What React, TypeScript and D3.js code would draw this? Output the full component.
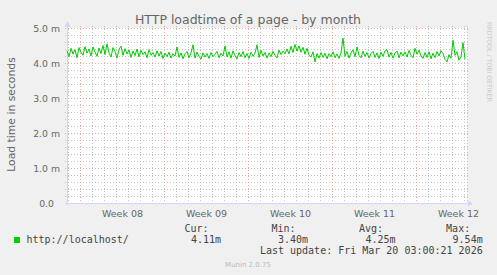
import React from "react";
import * as d3 from "d3";

// ---- data (milliseconds, one sample every 4 hours) ----
const seriesName = "http://localhost/";
const loadTimes: number[] = [
  4.35, 4.18, 4.42, 4.26, 4.38, 4.15, 4.44, 4.30, 4.22, 4.47,
  4.28, 4.40, 4.20, 4.46, 4.31, 4.19, 4.43, 4.27, 4.50, 4.24,
  4.55, 4.29, 4.17, 4.44, 4.33, 4.14, 4.39, 4.48, 4.22, 4.41,
  4.26, 4.37, 4.16, 4.34, 4.21, 4.40, 4.18, 4.36, 4.24, 4.32,
  4.15, 4.38, 4.22, 4.30, 4.17, 4.35, 4.20, 4.33, 4.13, 4.28,
  4.18, 4.31, 4.14, 4.27, 4.20, 4.46, 4.16, 4.29, 4.12, 4.26,
  4.33, 4.15, 4.28, 4.52, 4.14, 4.31, 4.19, 4.11, 4.29, 4.17,
  4.27, 4.13, 4.30, 4.18, 4.25, 4.33, 4.15, 4.28, 4.20, 4.49,
  4.17, 4.32, 4.14, 4.35, 4.21, 4.12, 4.30, 4.18, 4.33, 4.15,
  4.27, 4.13, 4.31, 4.19, 4.28, 4.52, 4.16, 4.36, 4.20, 4.30,
  4.14, 4.29, 4.18, 4.33, 4.22, 4.15, 4.37, 4.24, 4.34, 4.27,
  4.40, 4.26, 4.48, 4.30, 4.53, 4.34, 4.49, 4.31, 4.45, 4.25,
  4.42, 4.22, 4.17, 4.32, 4.03, 4.27, 4.14, 4.30, 4.16, 4.28,
  4.12, 4.27, 4.18, 4.32, 4.15, 4.26, 4.13, 4.29, 4.71, 4.19,
  4.33, 4.14, 4.29, 4.38, 4.18, 4.46, 4.22, 4.15, 4.34, 4.19,
  4.30, 4.14, 4.27, 4.33, 4.16, 4.29, 4.13, 4.31, 4.19, 4.35,
  4.38, 4.17, 4.30, 4.14, 4.28, 4.34, 4.15, 4.31, 4.20, 4.32,
  4.17, 4.36, 4.22, 4.15, 4.42, 4.25, 4.37, 4.20, 4.13, 4.30,
  4.16, 4.32, 4.12, 4.28, 4.15, 4.33, 4.20, 4.35, 4.27, 4.10,
  4.03, 4.24, 4.14, 4.65, 4.22, 4.32, 4.08, 4.18, 4.58, 4.11,
];
const startTime = Date.UTC(2026, 1, 14, 21, 0, 0);
const endTime = Date.UTC(2026, 2, 20, 5, 0, 0);
const stepHours = 4;

const yTickValues = [0, 1, 2, 3, 4, 5];
const yTickLabels = ["0.0", "1.0 m", "2.0 m", "3.0 m", "4.0 m", "5.0 m"];
const legendHeaders = ["Cur:", "Min:", "Avg:", "Max:"];
const legendValues = ["4.11m", "3.40m", "4.25m", "9.54m"];
const titleText = "HTTP loadtime of a page - by month";
const yAxisTitle = "Load time in seconds";
const lastUpdate = "Last update: Fri Mar 20 03:00:21 2026";
const footer = "Munin 2.0.75";
const watermark = "RRDTOOL / TOBI OETIKER";

const W = 497;
const H = 275;
const left = 67;
const right = 467;
const top = 28;
const bottom = 203;

export default function App() {
  const x = d3.scaleUtc().domain([new Date(startTime), new Date(endTime)]).range([left, right]);
  const y = d3.scaleLinear().domain([0, 5]).range([bottom, top]);

  const pts = loadTimes.map((v, i) => ({ t: new Date(startTime + i * stepHours * 3600 * 1000), v }));
  const line = d3
    .line<{ t: Date; v: number }>()
    .x((d) => x(d.t))
    .y((d) => y(d.v));

  const days = d3.utcDay.range(new Date(startTime), new Date(endTime));
  const mondays = d3.utcMonday.range(new Date(startTime), new Date(endTime));
  const minorY = d3.range(0, 26).map((k) => k * 0.2);
  const weekFmt = d3.utcFormat("%V");

  const font = "'DejaVu Sans', sans-serif";
  const mono = "'DejaVu Sans Mono', monospace";
  const fontColor = "#666666";
  const axisColor = "#CFD6F8";
  const minorGrid = "#C4C4C4";
  const majorGrid = "#EDA8A8";

  const valueEnds = [221, 308, 395.5, 482.7];

  return (
    <svg width={W} height={H} style={{ position: "absolute", left: 0, top: 0 }}>
      <rect x={0} y={0} width={W} height={H} fill="#F0F0F0" />
      <rect x={left} y={top} width={right - left} height={bottom - top} fill="#FFFFFF" />

      {/* minor grid */}
      {minorY.map((v, k) =>
        k % 5 === 0 ? null : (
          <line key={"my" + k} x1={left - 2} x2={right + 2} y1={Math.round(y(v)) + 0.5} y2={Math.round(y(v)) + 0.5}
            stroke={minorGrid} strokeDasharray="1,2" />
        )
      )}
      {days.map((d) =>
        d.getUTCDay() === 1 ? null : (
          <line key={"mx" + +d} x1={Math.floor(x(d)) + 0.5} x2={Math.floor(x(d)) + 0.5} y1={top - 2} y2={bottom + 2}
            stroke={minorGrid} strokeDasharray="1,2" />
        )
      )}
      {/* major grid */}
      {yTickValues.map((v) =>
        v === 0 ? null : (
          <line key={"My" + v} x1={left - 2} x2={right + 2} y1={Math.round(y(v)) + 0.5} y2={Math.round(y(v)) + 0.5}
            stroke={majorGrid} strokeDasharray="1,2" />
        )
      )}
      {mondays.map((d) => (
        <line key={"Mx" + +d} x1={Math.floor(x(d)) + 0.5} x2={Math.floor(x(d)) + 0.5} y1={top - 2} y2={bottom + 2}
          stroke={majorGrid} strokeDasharray="1,2" />
      ))}
      <line x1={right + 0.5} x2={right + 0.5} y1={top - 2} y2={bottom} stroke={minorGrid} strokeDasharray="1,2" />

      {/* axes */}
      <line x1={left - 2} x2={right + 4} y1={bottom + 0.5} y2={bottom + 0.5} stroke={axisColor} />
      <line x1={left + 0.5} x2={left + 0.5} y1={bottom + 2} y2={top - 4} stroke={axisColor} />
      <path d={`M${left + 0.5},${top - 7} L${left - 2.5},${top - 1} L${left + 3.5},${top - 1} Z`} fill={axisColor} />
      <path d={`M${right + 6},${bottom + 0.5} L${right + 1},${bottom - 2.5} L${right + 1},${bottom + 3.5} Z`} fill={axisColor} />

      {/* data line */}
      <path d={line(pts) || ""} fill="none" stroke="#00CC00" strokeWidth={1} />

      {/* y tick labels */}
      {yTickValues.map((v, i) => (
        <text key={"yl" + v} x={v === 0 ? 54 : 60} y={y(v) + 3.6} textAnchor="end" fontFamily={font} fontSize={9.3} fill={fontColor}>
          {yTickLabels[i]}
        </text>
      ))}
      {/* x week labels */}
      {mondays.map((d) => (
        <text key={"xl" + +d} x={x(new Date(+d + 3.5 * 86400000))} y={216.5} textAnchor="middle" fontFamily={font} fontSize={9.5} fill={fontColor}>
          {"Week " + weekFmt(d)}
        </text>
      ))}

      {/* titles */}
      <text x={248} y={23.5} textAnchor="middle" fontFamily={font} fontSize={12.5} fill={fontColor}>{titleText}</text>
      <text transform="translate(15,114.5) rotate(-90)" textAnchor="middle" fontFamily={font} fontSize={10.8} fill={fontColor}>{yAxisTitle}</text>
      <text transform="translate(486.5,22) rotate(90)" textAnchor="start" fontFamily={font} fontSize={6.5} fill="#CCCCCC" textLength={80} lengthAdjust="spacingAndGlyphs">{watermark}</text>

      {/* legend */}
      <rect x={14} y={237} width={6} height={6} fill="#00CC00" />
      <text x={26.5} y={243.3} fontFamily={mono} fontSize={10} fill="#444">{seriesName}</text>
      {legendHeaders.map((h, i) => (
        <text key={h} x={valueEnds[i] - 12.5} y={231.7} textAnchor="end" fontFamily={mono} fontSize={10} fill="#444">{h}</text>
      ))}
      {legendValues.map((v, i) => (
        <text key={"v" + i} x={valueEnds[i]} y={243.3} textAnchor="end" fontFamily={mono} fontSize={10} fill="#444">{v}</text>
      ))}
      <text x={482.7} y={254.3} textAnchor="end" fontFamily={mono} fontSize={10} fill="#444">{lastUpdate}</text>
      <text x={248} y={266.5} textAnchor="middle" fontFamily={font} fontSize={7} fill="#BBBBBB">{footer}</text>
    </svg>
  );
}
